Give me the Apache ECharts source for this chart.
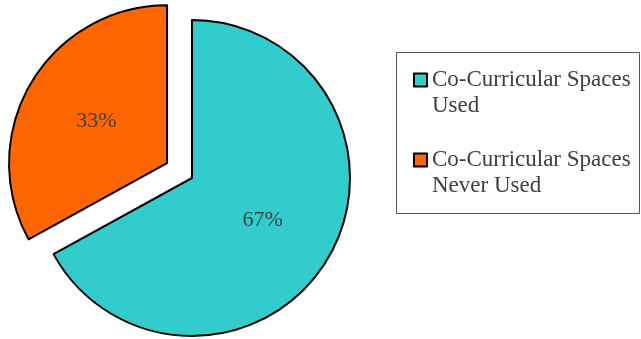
<!DOCTYPE html>
<html>
<head>
<meta charset="utf-8">
<script src="https://cdn.jsdelivr.net/npm/echarts@6/dist/echarts.min.js"></script>
<style>
html,body{margin:0;padding:0;background:#fff;}
#c{width:641px;height:339px;}
</style>
</head>
<body>
<div id="c"></div>
<script>
var categories = ['Co-Curricular Spaces\nUsed', 'Co-Curricular Spaces\nNever Used'];
var values = [67, 33];
var colors = ['#33CCCC', '#FF6600'];
var exploded = [false, true];

var chart = echarts.init(document.getElementById('c'), null, {renderer: 'canvas'});
var data = categories.map(function (c, i) {
  return {name: c, value: values[i], selected: exploded[i], itemStyle: {color: colors[i]}};
});
chart.setOption({
  animation: false,
  backgroundColor: '#fff',
  graphic: [{
    type: 'rect',
    shape: {x: 396.5, y: 52.5, width: 243, height: 161},
    style: {fill: 'none', stroke: '#555', lineWidth: 1},
    silent: true
  }],
  legend: {
    orient: 'vertical',
    left: 413,
    top: 41,
    padding: 0,
    itemGap: 2,
    itemWidth: 13,
    itemHeight: 13,
    icon: 'rect',
    itemStyle: {borderColor: '#000', borderWidth: 2},
    formatter: function (name) { return '\n' + name; },
    textStyle: {
      fontFamily: 'Liberation Serif',
      fontSize: 23,
      color: '#404040',
      lineHeight: 26
    },
    data: categories
  },
  series: [{
    type: 'pie',
    center: [192, 178],
    radius: [0, 158],
    startAngle: 90,
    clockwise: true,
    selectedMode: 'single',
    selectedOffset: 29,
    select: {itemStyle: {borderColor: '#000', borderWidth: 2}},
    emphasis: {disabled: true},
    itemStyle: {borderColor: '#000', borderWidth: 2},
    label: {
      show: true,
      position: 'inside',
      fontFamily: 'Liberation Serif',
      fontSize: 22,
      color: '#404040',
      formatter: function (p) { return p.value + '%'; }
    },
    labelLine: {show: false},
    data: data
  }]
});
</script>
</body>
</html>
